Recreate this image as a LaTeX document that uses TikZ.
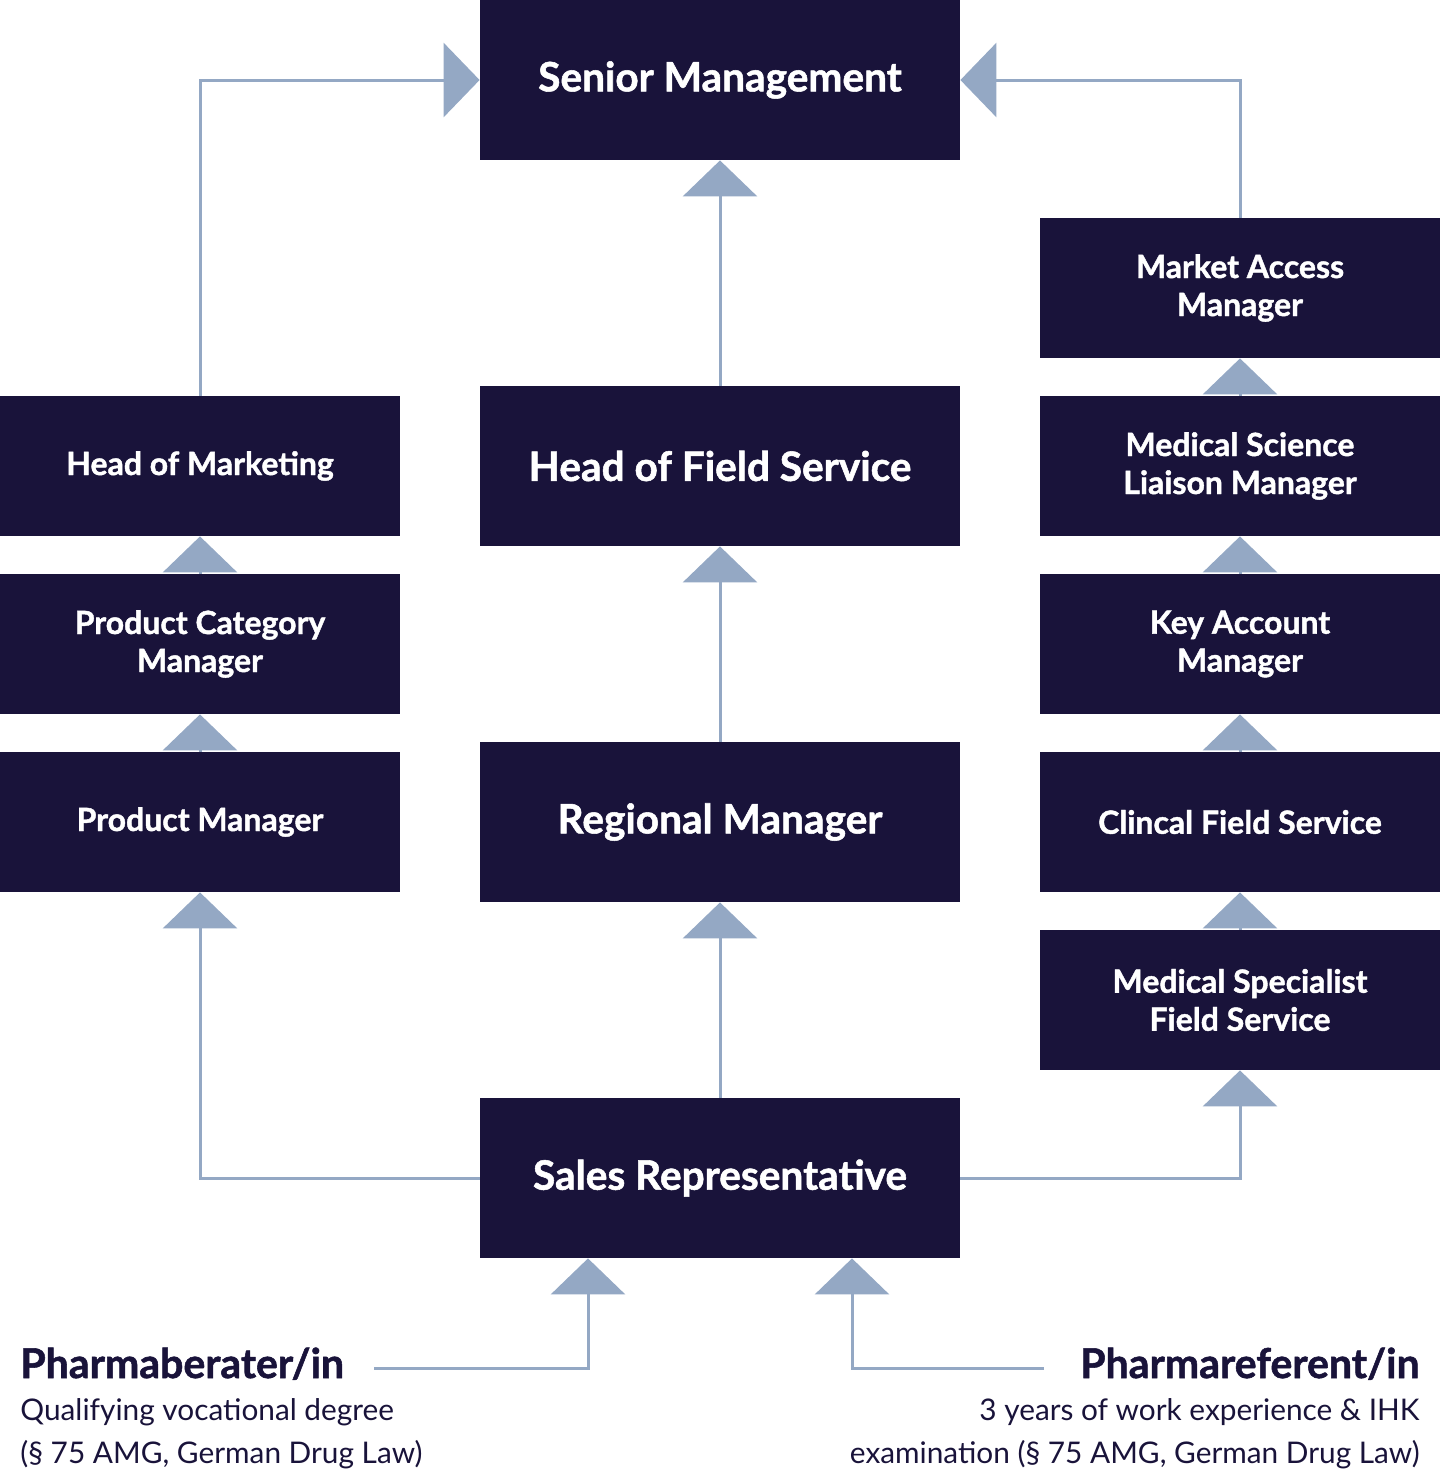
\documentclass[tikz,border=0pt]{standalone}
\usepackage{fontspec}
\setmainfont{Lato}[BoldFeatures={FakeBold=1.3}]
\usepackage{tikz}
\definecolor{Navy}{HTML}{19133A}
\definecolor{Steel}{HTML}{94A8C4}
\usetikzlibrary{arrows.meta,calc}

\begin{document}
\begin{tikzpicture}[x=0.5pt,y=-0.5pt,
    box/.style={fill=Navy,text=white,font=\bfseries\fontsize{16}{19}\selectfont,
                align=center,inner sep=0pt,minimum width=200pt,minimum height=70pt},
    bigbox/.style={box,font=\bfseries\fontsize{20.3}{22}\selectfont,
                minimum width=240pt,minimum height=80pt},
    link/.style={draw=Steel,line width=1.5pt,-{Triangle[width=37pt,length=18pt]}},
    title/.style={text=Navy,inner sep=0pt,font=\bfseries\fontsize{20.5}{22}\selectfont},
    note/.style={text=Navy,inner sep=0pt,font=\fontsize{14.9}{21.5}\selectfont}]
    \useasboundingbox (0,0) rectangle (1440,1480);

    % middle column
    \node[bigbox] (sm)  at (720,80)   {Senior Management};
    \node[bigbox] (hfs) at (720,466)  {Head of Field Service};
    \node[bigbox] (rm)  at (720,822)  {Regional Manager};
    \node[bigbox] (sr)  at (720,1178) {Sales Representative};

    % marketing column
    \node[box] (hm)  at (200,466) {Head of Marketing};
    \node[box] (pcm) at (200,644) {Product Category\\Manager};
    \node[box] (pm)  at (200,822) {Product Manager};

    % medical column
    \node[box] (mam)  at (1240,288)  {Market Access\\Manager};
    \node[box] (msl)  at (1240,466)  {Medical Science\\Liaison Manager};
    \node[box] (kam)  at (1240,644)  {Key Account\\Manager};
    \node[box] (cfs)  at (1240,822)  {Clincal Field Service};
    \node[box] (msfs) at (1240,1000) {Medical Specialist\\Field Service};

    \draw[link] (hfs.north) -- (sm.south);
    \draw[link] (rm.north) -- (hfs.south);
    \draw[link] (sr.north) -- (rm.south);
    \draw[link] (hm.north) |- (sm.west);
    \draw[link] (pcm.north) -- (hm.south);
    \draw[link] (pm.north) -- (pcm.south);
    \draw[link] (sr.west) -| (pm.south);
    \draw[link] (mam.north) |- (sm.east);
    \draw[link] (msl.north) -- (mam.south);
    \draw[link] (kam.north) -- (msl.south);
    \draw[link] (cfs.north) -- (kam.south);
    \draw[link] (msfs.north) -- (cfs.south);
    \draw[link] (sr.east) -| (msfs.south);

    % entry paths
    \node[title,anchor=base west] (pb) at (20,1378) {Pharmaberater/in};
    \node[note,anchor=base west] (pbl1) at (20,1420) {Qualifying vocational degree};
    \node[note,anchor=base west] (pbl2) at (20,1463) {(§ 75 AMG, German Drug Law)};
    \node[title,anchor=base east] (pr) at (1420,1378) {Pharmareferent/in};
    \node[note,anchor=base east] (prl1) at (1420,1420) {3 years of work experience \& IHK};
    \node[note,anchor=base east] (prl2) at (1420,1463) {examination (§ 75 AMG, German Drug Law)};
    \coordinate (pbend) at (374,1368);
    \coordinate (prend) at (1044,1368);
    \draw[link] (pbend) -| ($(sr.south)+(-132,0)$);
    \draw[link] (prend) -| ($(sr.south)+(132,0)$);
\end{tikzpicture}
\end{document}
